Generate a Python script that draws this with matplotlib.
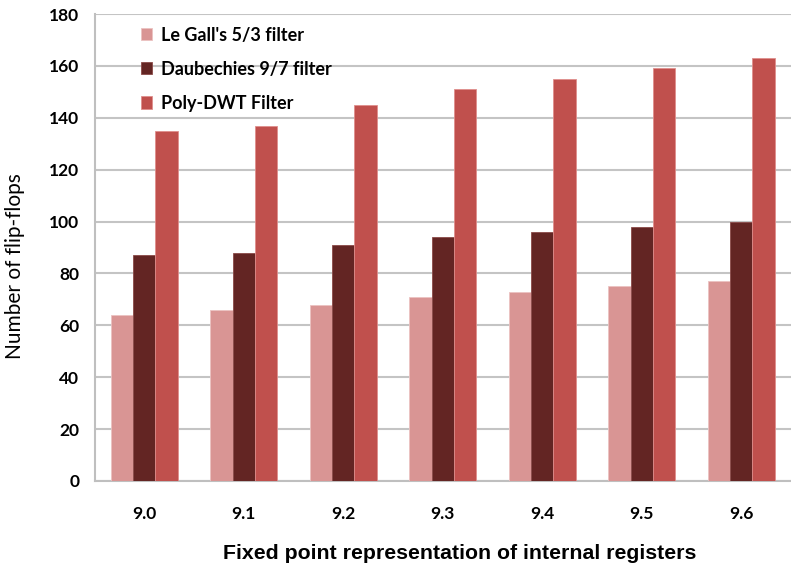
import matplotlib
matplotlib.use("Agg")
import matplotlib.pyplot as plt
import numpy as np

categories = ["9.0", "9.1", "9.2", "9.3", "9.4", "9.5", "9.6"]
le_gall = [64, 66, 68, 71, 73, 75, 77]
daubechies = [87, 88, 91, 94, 96, 98, 100]
poly_dwt = [135, 137, 145, 151, 155, 159, 163]
series_names = ["Le Gall's 5/3 filter", "Daubechies 9/7 filter", "Poly-DWT Filter"]
colors = ["#D99594", "#632523", "#C0504D"]
edge_colors = ["#EBC2C1", "#8A4A48", "#E08E8C"]

plt.rcParams["font.family"] = ["Lato", "DejaVu Sans"]

fig = plt.figure(figsize=(7.91, 5.65), dpi=100)
ax = fig.add_axes([0.1195, 0.1487, 0.8805, 0.8265])

x = np.arange(len(categories))
width = 0.224
for i, (vals, name) in enumerate(zip([le_gall, daubechies, poly_dwt], series_names)):
    ax.bar(x + (i - 1) * width, vals, width, color=colors[i], edgecolor=edge_colors[i],
           linewidth=0.6, label=name, zorder=3)

ax.set_xlim(-0.5, len(categories) - 0.5)
ax.set_ylim(0, 180)
ax.set_yticks(range(0, 181, 20))
ax.set_xticks(x)
ax.set_xticklabels(categories)
ax.yaxis.grid(True, color="#C4C4C4", linewidth=1.5, zorder=0)
ax.set_axisbelow(True)

for side in ["top", "right"]:
    ax.spines[side].set_visible(False)
for side in ["left", "bottom"]:
    ax.spines[side].set_color("#BFBFBF")
    ax.spines[side].set_linewidth(1.5)

ax.tick_params(axis="both", length=0)
ax.tick_params(axis="y", pad=11)
ax.tick_params(axis="x", pad=18)
for lab in ax.get_xticklabels() + ax.get_yticklabels():
    lab.set_fontsize(12.5)
    lab.set_fontweight("bold")

ax.set_ylabel("Number of flip-flops", fontsize=15)
ax.yaxis.set_label_coords(-0.1, 0.46)
ax.set_xlabel("Fixed point representation of internal registers", fontsize=15.3,
              fontweight="bold", family=["Liberation Sans", "DejaVu Sans"])
ax.xaxis.set_label_coords(0.525, -0.135)

leg = ax.legend(loc="upper left", bbox_to_anchor=(0.043, 1.008), frameon=False,
                prop={"weight": "bold", "size": 13}, handlelength=0.65,
                handleheight=0.65, handletextpad=0.45, labelspacing=0.95)

fig.savefig("out.png", dpi=100)
